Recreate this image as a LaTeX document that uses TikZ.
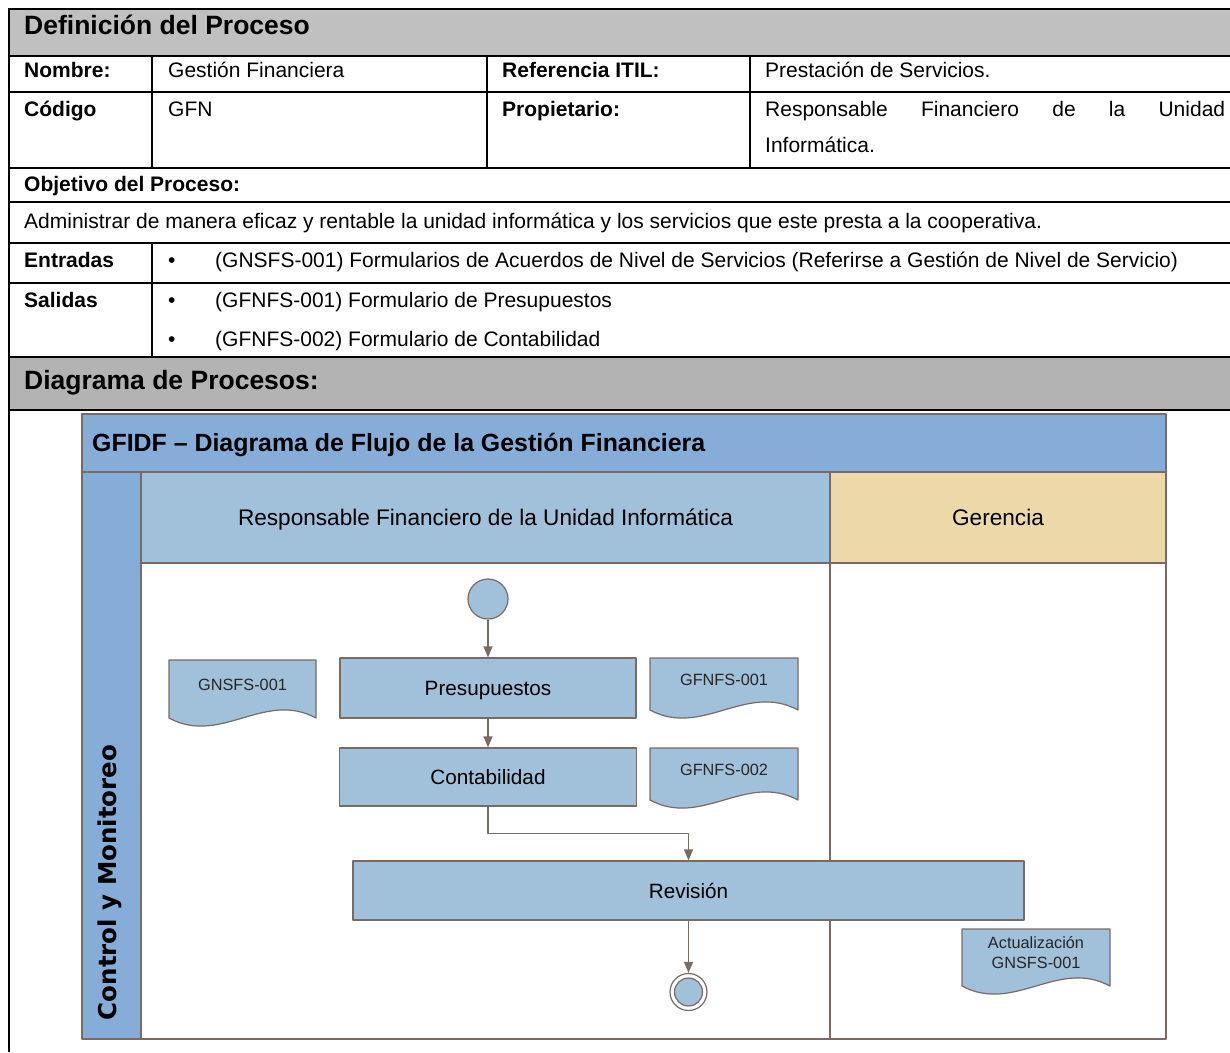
\documentclass[tikz,border=0pt]{standalone}
\usepackage{fontspec}
\setmainfont{Liberation Sans}
\newfontfamily\carrilfont{DejaVu Sans}
\usetikzlibrary{arrows.meta}

\definecolor{grisA}{RGB}{192,192,192}
\definecolor{grisB}{RGB}{179,179,179}
\definecolor{azulF}{RGB}{133,173,216}
\definecolor{azulC}{RGB}{161,192,218}
\definecolor{ocre}{RGB}{236,217,170}
\definecolor{trazo}{RGB}{122,106,100}

\tikzset{
  celda/.style={anchor=base west, inner sep=0pt, font=\fontsize{21}{25}\selectfont},
  celdab/.style={celda, font=\fontsize{21}{25}\selectfont\bfseries},
  titulo/.style={anchor=base west, inner sep=0pt, font=\fontsize{26.5}{30}\selectfont\bfseries},
  rejilla/.style={line width=2pt},
  forma/.style={draw=trazo, fill=azulC, line width=1.2pt},
  tarea/.style={forma, inner sep=0pt, text height=15pt, text depth=0pt, font=\fontsize{20.7}{24}\selectfont},
  carril/.style={inner sep=0pt, text height=16.2pt, text depth=0pt, font=\fontsize{22.6}{26}\selectfont},
  docto/.style={inner sep=0pt, align=center, font=\fontsize{16.3}{20}\selectfont, text=black!85},
  flujo/.style={draw=trazo, line width=1.2pt, -{Triangle[length=11pt,width=9pt]}},
}

% formulario: x, y, ancho, alto (borde inferior ondulado)
\newcommand{\formulario}[4]{%
  \draw[forma] (#1,#2) -- (#1+#3,#2) -- (#1+#3,#2+#4)
    .. controls (#1+0.65*#3,#2+#4-28) and (#1+0.35*#3,#2+#4+28) .. (#1,#2+#4) -- cycle;}

\begin{document}
\begin{tikzpicture}[x=1pt, y=-1pt, line join=round]
\useasboundingbox (0,0) rectangle (1230,1052);

% tabla de definicion
\fill[grisA] (9,9) rectangle (1230,56);
\fill[grisB] (9,357) rectangle (1230,410);
\foreach \y in {9,56,92,168,202,243,283,357,410}
  \draw[rejilla] (9,\y) -- (1230,\y);
\foreach \x in {152,487,750}
  \draw[rejilla] (\x,56) -- (\x,168);
\draw[rejilla] (152,243) -- (152,357);
\draw[line width=2.5pt] (9,8) -- (9,1052);

\node[titulo] (defin) at (24,34.5) {Definición del Proceso};
\node[celdab] (nombre) at (24,77.5) {Nombre:};
\node[celda] at (168,77.5) {Gestión Financiera};
\node[celdab] at (502,77.5) {Referencia ITIL:};
\node[celda] at (765,77.5) {Prestación de Servicios.};
\node[celdab] (codigo) at (24,116.5) {Código};
\node[celda] at (168,116.5) {GFN};
\node[celdab] at (502,116.5) {Propietario:};
\node[celda] at (765,116.5) {\makebox[460pt][s]{Responsable\hfill Financiero\hfill de\hfill la\hfill Unidad}};
\node[celda] at (765,152.5) {Informática.};
\node[celdab] (objetivo) at (24,191.5) {Objetivo del Proceso:};
\node[celda] at (24,228.5) {Administrar de manera eficaz y rentable la unidad informática y los servicios que este presta a la cooperativa.};
\node[celdab] (entradas) at (24,267.5) {Entradas};
\node[celda] at (168,267.5) {•};
\node[celda] at (215,267.5) {(GNSFS-001) Formularios de Acuerdos de Nivel de Servicios (Referirse a Gestión de Nivel de Servicio)};
\node[celdab] (salidas) at (24,307.5) {Salidas};
\node[celda] at (168,307.5) {•};
\node[celda] at (215,307.5) {(GFNFS-001) Formulario de Presupuestos};
\node[celda] at (168,346.5) {•};
\node[celda] at (215,346.5) {(GFNFS-002) Formulario de Contabilidad};
\node[titulo] (diagrama) at (24,389.5) {Diagrama de Procesos:};

% diagrama de flujo
\draw[forma, fill=azulF] (82,414) rectangle (1166,472);
\draw[forma, fill=azulF] (82,472) rectangle (141,1039);
\draw[forma] (141,472) rectangle (830,563);
\draw[forma, fill=ocre] (830,472) rectangle (1166,563);
\draw[forma, fill=white] (141,563) rectangle (1166,1039);
\draw[trazo, line width=1.2pt] (830,563) -- (830,1039);

\node[anchor=base west, inner sep=0pt, font=\fontsize{24.9}{28}\selectfont\bfseries] (tituloD) at (92,451) {GFIDF – Diagrama de Flujo de la Gestión Financiera};
\node[carril] (responsable) at (485.5,517) {Responsable Financiero de la Unidad Informática};
\node[carril] (gerencia) at (998,517) {Gerencia};
\node[anchor=base, rotate=90, inner sep=0pt, font=\carrilfont\bfseries\fontsize{24.5}{28}\selectfont] (control) at (116,882.5) {Control y Monitoreo};

% actividades
\node[circle, forma, minimum size=40pt, inner sep=0pt] (inicio) at (488,599) {};
\node[tarea, minimum width=296pt, minimum height=60pt] (presup) at (488,688) {Presupuestos};
\node[tarea, minimum width=297pt, minimum height=58pt] (contab) at (488,777) {Contabilidad};
\node[tarea, minimum width=671pt, minimum height=59pt] (revision) at (688.5,890.5) {Revisión};
\node[circle, forma, fill=white, minimum size=37pt, inner sep=0pt] (fin) at (688.5,992) {};
\draw[forma] (fin.center) circle (14);

% formularios
\formulario{169}{660}{147}{58}
\node[docto] (docGnsfs) at (242.5,685) {GNSFS-001};
\formulario{650}{658}{148}{52}
\node[docto] (docPresup) at (724,680) {GFNFS-001};
\formulario{650}{748}{148}{52}
\node[docto] (docContab) at (724,770) {GFNFS-002};
\formulario{962}{929}{148}{57}
\node[docto] (docActual) at (1036,953) {Actualización\\GNSFS-001};

% conectores
\draw[flujo] (inicio) -- (presup);
\draw[flujo] (presup) -- (contab);
\draw[flujo] (contab.south) -- ++(0,27) -| (revision.north);
\draw[flujo] (revision.south) -- (fin.north);
\end{tikzpicture}
\end{document}
